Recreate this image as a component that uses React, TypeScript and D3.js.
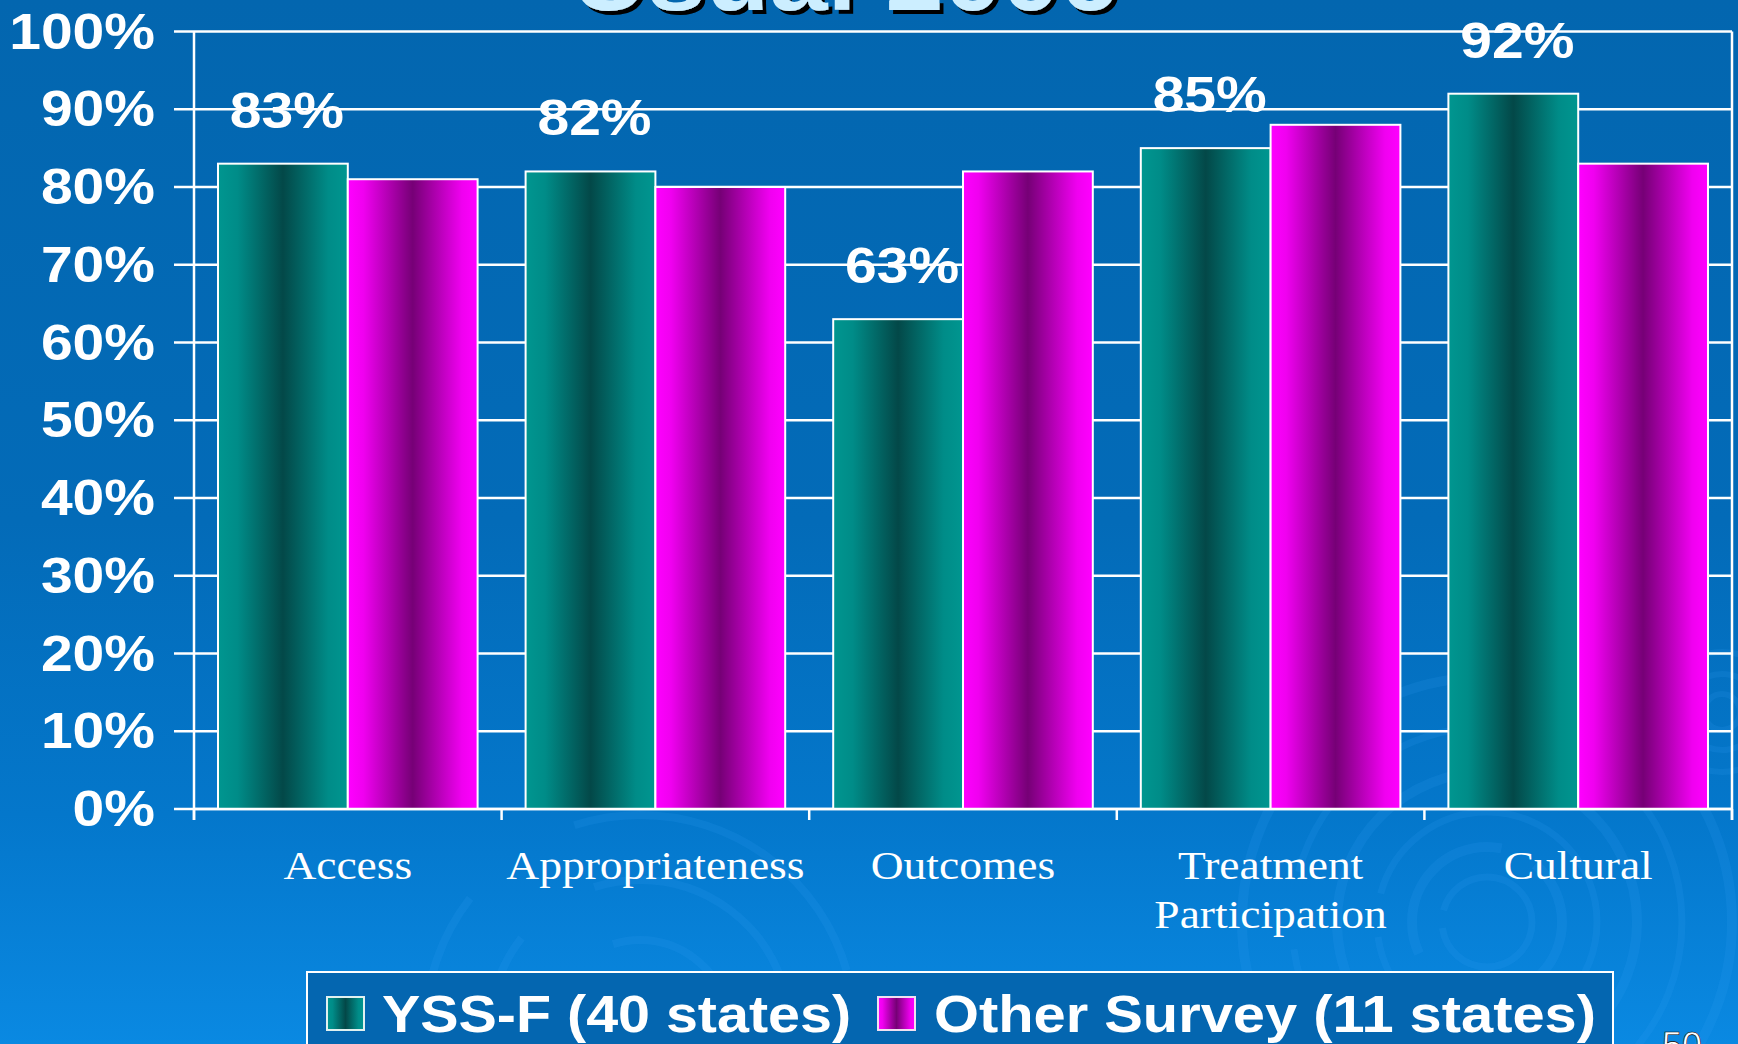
import React from "react";
import * as d3 from "d3";

const categories = ["Access", "Appropriateness", "Outcomes", "Treatment\nParticipation", "Cultural"];
const seriesNames = ["YSS-F (40 states)", "Other Survey (11 states)"];
const yssValues = [83, 82, 63, 85, 92];
const otherValues = [81, 80, 82, 88, 83];
const yTicks = [0, 10, 20, 30, 40, 50, 60, 70, 80, 90, 100];
const titleText = "Usual 2006";
const slideNumber = "50";

const W = 1738;
const H = 1044;
const plot = { left: 194, right: 1732, top: 31.5, bottom: 809 };

export default function App() {
  const x = d3.scaleBand<string>().domain(categories).range([plot.left, plot.right]).paddingInner(0).paddingOuter(0);
  const inner = d3
    .scaleBand<string>()
    .domain(["yss", "other"])
    .range([24, x.bandwidth() - 24])
    .paddingInner(0)
    .paddingOuter(0);
  const y = d3.scaleLinear().domain([0, 100]).range([plot.bottom, plot.top]);
  const series = [
    { key: "yss", values: yssValues, fill: "url(#tealGrad)" },
    { key: "other", values: otherValues, fill: "url(#magGrad)" },
  ];
  const boundaries = categories.map((c) => x(c) as number).concat([plot.right]);
  const sx = 1.11;

  return (
    <svg width={W} height={H} style={{ position: "absolute", left: 0, top: 0 }}>
      <defs>
        <linearGradient id="bgGrad" x1="0" y1="0" x2="0" y2="1">
          <stop offset="0" stopColor="#0366AF" />
          <stop offset="0.5" stopColor="#036BB8" />
          <stop offset="0.78" stopColor="#0477CB" />
          <stop offset="1" stopColor="#0A89E2" />
        </linearGradient>
        <linearGradient id="tealGrad" x1="0" y1="0" x2="1" y2="0">
          <stop offset="0" stopColor="#009690" />
          <stop offset="0.15" stopColor="#008C88" />
          <stop offset="0.5" stopColor="#034848" />
          <stop offset="0.85" stopColor="#008C88" />
          <stop offset="1" stopColor="#009690" />
        </linearGradient>
        <linearGradient id="magGrad" x1="0" y1="0" x2="1" y2="0">
          <stop offset="0" stopColor="#FF00FF" />
          <stop offset="0.12" stopColor="#F000F0" />
          <stop offset="0.5" stopColor="#760076" />
          <stop offset="0.88" stopColor="#F000F0" />
          <stop offset="1" stopColor="#FF00FF" />
        </linearGradient>
        <filter id="titleShadow" x="-10%" y="-50%" width="120%" height="200%">
          <feDropShadow dx="4" dy="4" stdDeviation="0" floodColor="#000000" floodOpacity="1" />
        </filter>
      </defs>
      <rect x={0} y={0} width={W} height={H} fill="url(#bgGrad)" />

      {/* decorative swirls */}
      <g fill="none" stroke="#3AA6F5" strokeOpacity={0.14}>
        {[45, 75, 110, 150, 195, 245].map((r, i) => (
          <circle key={"s1" + i} cx={1487} cy={922} r={r} strokeWidth={i % 2 ? 10 : 7}
            strokeDasharray={i % 2 ? `${r * 2.2} ${r * 0.5}` : `${r * 3} ${r * 0.4}`} />
        ))}
        {[18, 38, 60].map((r, i) => (
          <circle key={"s2" + i} cx={1722} cy={712} r={r} strokeWidth={6} />
        ))}
        {[90, 150, 215].map((r, i) => (
          <circle key={"s3" + i} cx={640} cy={1030} r={r} strokeWidth={8}
            strokeDasharray={`${r * 1.6} ${r * 0.6}`} />
        ))}
      </g>

      {/* title (mostly cut off at the top edge) */}
      <text x={572} y={10} textLength={546} lengthAdjust="spacingAndGlyphs" fill="#CCEEFF"
        fontFamily="'Liberation Sans', Arial, sans-serif" fontWeight="bold" fontSize={95}
        filter="url(#titleShadow)">{titleText}</text>

      {/* gridlines and ticks */}
      <g stroke="#FFFFFF" strokeWidth={2.5}>
        {yTicks.map((t) => (
          <line key={"g" + t} x1={plot.left - 20} x2={plot.right} y1={y(t)} y2={y(t)} />
        ))}
        <line x1={plot.left} x2={plot.left} y1={plot.top} y2={plot.bottom + 11} />
        <line x1={plot.right} x2={plot.right} y1={plot.top} y2={plot.bottom + 11} />
        {boundaries.map((b, i) => (
          <line key={"xt" + i} x1={b} x2={b} y1={plot.bottom} y2={plot.bottom + 11} />
        ))}
      </g>

      {/* y labels */}
      <g fontFamily="'Liberation Sans', Arial, sans-serif" fontWeight="bold" fontSize={50} fill="#FFFFFF">
        {yTicks.map((t) => (
          <text key={"yl" + t} transform={`translate(155, ${y(t) + 17}) scale(1.14, 1)`} textAnchor="end">
            {t + "%"}
          </text>
        ))}
      </g>

      {/* bars */}
      <g stroke="#FFFFFF" strokeWidth={2}>
        {series.map((s) =>
          categories.map((c, i) => {
            const bx = (x(c) as number) + (inner(s.key) as number);
            return (
              <rect key={s.key + i} x={bx} y={y(s.values[i])} width={inner.bandwidth()}
                height={y(0) - y(s.values[i])} fill={s.fill} />
            );
          })
        )}
      </g>
      <line x1={plot.left} x2={plot.right} y1={plot.bottom} y2={plot.bottom} stroke="#FFFFFF" strokeWidth={2.5} />

      {/* data labels on YSS-F bars */}
      <g fontFamily="'Liberation Sans', Arial, sans-serif" fontWeight="bold" fontSize={50} fill="#FFFFFF">
        {categories.map((c, i) => {
          const cx = (x(c) as number) + (inner("yss") as number) + inner.bandwidth() / 2 + 4;
          return (
            <text key={"dl" + i} transform={`translate(${cx}, ${y(yssValues[i]) - 36}) scale(1.14, 1)`} textAnchor="middle">
              {yssValues[i] + "%"}
            </text>
          );
        })}
      </g>

      {/* category labels */}
      <g fontFamily="'Liberation Serif', 'Times New Roman', serif" fontSize={41} fill="#FFFFFF">
        {categories.map((c, i) => {
          const cx = (x(c) as number) + x.bandwidth() / 2;
          return c.split("\n").map((line, j) => (
            <text key={"cl" + i + "_" + j} transform={`translate(${cx}, ${879 + j * 49}) scale(${sx}, 1)`} textAnchor="middle">
              {line}
            </text>
          ));
        })}
      </g>

      {/* legend */}
      <rect x={307} y={972} width={1306} height={100} fill="#0466B0" stroke="#FFFFFF" strokeWidth={2} />
      <rect x={327} y={997} width={37} height={33} fill="url(#tealGrad)" stroke="#E0F0F0" strokeWidth={2} />
      <rect x={878} y={997} width={37} height={33} fill="url(#magGrad)" stroke="#F0E0F0" strokeWidth={2} />
      <g fontFamily="'Liberation Sans', Arial, sans-serif" fontWeight="bold" fontSize={52} fill="#FFFFFF">
        <text x={382} y={1032} textLength={469} lengthAdjust="spacingAndGlyphs">{seriesNames[0]}</text>
        <text x={934} y={1032} textLength={662} lengthAdjust="spacingAndGlyphs">{seriesNames[1]}</text>
      </g>

      <text x={1662} y={1058} fontFamily="'Liberation Sans', Arial, sans-serif" fontSize={36} fill="#FFFFFF"
        stroke="#000" strokeWidth={0.6}>{slideNumber}</text>
    </svg>
  );
}
